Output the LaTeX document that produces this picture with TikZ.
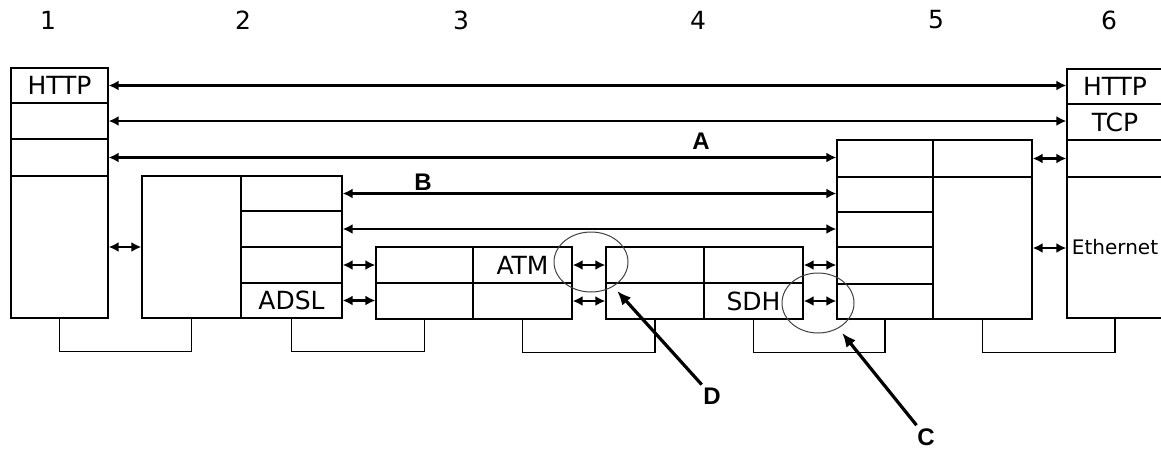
\documentclass[tikz,border=0pt]{standalone}
\usepackage{fontspec}
\setmainfont{DejaVu Sans}
\newfontfamily\labelfont{Liberation Sans}
\usetikzlibrary{arrows.meta}
\usetikzlibrary{shapes.geometric}

\begin{document}
\begin{tikzpicture}[
    x=1pt, y=-1pt,
    every node/.style={inner sep=0pt, font=\fontsize{25}{30}\selectfont},
    cell/.style 2 args={draw, line width=1.3pt, minimum width=#1, minimum height=#2},
    link/.style={line width=2.6pt, {Latex[length=10pt,width=10pt]}-{Latex[length=10pt,width=10pt]}},
    pointer/.style={line width=3.2pt, -{Latex[length=14pt,width=12pt]}, shorten >=6pt, shorten <=4pt},
    ring/.style={ellipse, draw, line width=1pt, black!75},
    tag/.style={font=\labelfont\bfseries\fontsize{24}{28}\selectfont},
  ]

  \useasboundingbox (0,0) rectangle (1161,461);
  \clip (0,0) rectangle (1161,461);

  \node (n1) at (48,20)   {1};
  \node (n2) at (243,20)  {2};
  \node (n3) at (461,20)  {3};
  \node (n4) at (698,20)  {4};
  \node (n5) at (936,20)  {5};
  \node (n6) at (1109,20) {6};

  \node[cell={97}{35}]  (a1) at (59.5,85.5) {HTTP};
  \node[cell={97}{36}]  (a2) at (59.5,121)  {};
  \node[cell={97}{37}]  (a3) at (59.5,157.5) {};
  \node[cell={97}{142}] (a4) at (59.5,247)  {};

  \node[cell={99}{142}] (b0) at (191.5,247)   {};
  \node[cell={101}{35}] (b1) at (291.5,193.5) {};
  \node[cell={101}{36}] (b2) at (291.5,229)   {};
  \node[cell={101}{36}] (b3) at (291.5,265)   {};
  \node[cell={101}{35}] (b4) at (291.5,300.5) {ADSL};

  \node[cell={97}{36}] (c1) at (424.5,265) {};
  \node[cell={99}{36}] (c2) at (522.5,265) {ATM};
  \node[cell={97}{36}] (c3) at (424.5,301) {};
  \node[cell={99}{36}] (c4) at (522.5,301) {};

  \node[cell={98}{36}] (d1) at (655,265)   {};
  \node[cell={99}{36}] (d2) at (753.5,265) {};
  \node[cell={98}{36}] (d3) at (655,301)   {};
  \node[cell={99}{36}] (d4) at (753.5,301) {SDH};

  \node[cell={96}{37}]  (e0) at (885,158.5)   {};
  \node[cell={99}{37}]  (e6) at (982.5,158.5) {};
  \node[cell={96}{35}]  (e1) at (885,194.5)   {};
  \node[cell={96}{35}]  (e2) at (885,229.5)   {};
  \node[cell={96}{37}]  (e3) at (885,265.5)   {};
  \node[cell={96}{35}]  (e4) at (885,301.5)   {};
  \node[cell={99}{142}] (e5) at (982.5,248)   {};

  \node[cell={96}{35}]  (f1) at (1115,86.5)  {HTTP};
  \node[cell={96}{36}]  (f2) at (1115,122)   {TCP};
  \node[cell={96}{37}]  (f3) at (1115,158.5) {};
  \node[cell={96}{141}, font=\fontsize{20}{24}\selectfont] (f4) at (1115,247.5) {Ethernet};

  \draw[link] (a1.east) -- (a1.east -| f1.west);
  \draw[link] (a2.east) -- (a2.east -| f2.west);
  \draw[link] (a3.east) -- (a3.east -| e0.west);
  \draw[link] (b1.east) -- (b1.east -| e1.west);
  \draw[link] (b2.east) -- (b2.east -| e2.west);

  \node[tag] (lA) at (701,141) {A};
  \node[tag] (lB) at (423,182) {B};

  \foreach \p/\q in {a4/b0, b3/c1, b4/c3, c2/d1, c4/d3, d2/e3, d4/e4, e6/f3, e5/f4}
    \draw[link] (\p.east) -- (\p.east -| \q.west);

  % lines under the boxes
  \foreach \p/\q in {a4/b0, b4/c3, c4/d3, d4/e4, e5/f4}
    \draw[line width=1.3pt] (\p.south) -- ++(0,33) -| (\q.south);

  \node[ring, minimum width=74, minimum height=60] (rD) at (591,262) {};
  \node[ring, minimum width=72, minimum height=60] (rC) at (818,303) {};

  \node[tag] (lD) at (712,396) {D};
  \node[tag] (lC) at (926,437) {C};

  \draw[pointer] (lD) -- (rD);
  \draw[pointer] (lC) -- (rC);

\end{tikzpicture}
\end{document}
